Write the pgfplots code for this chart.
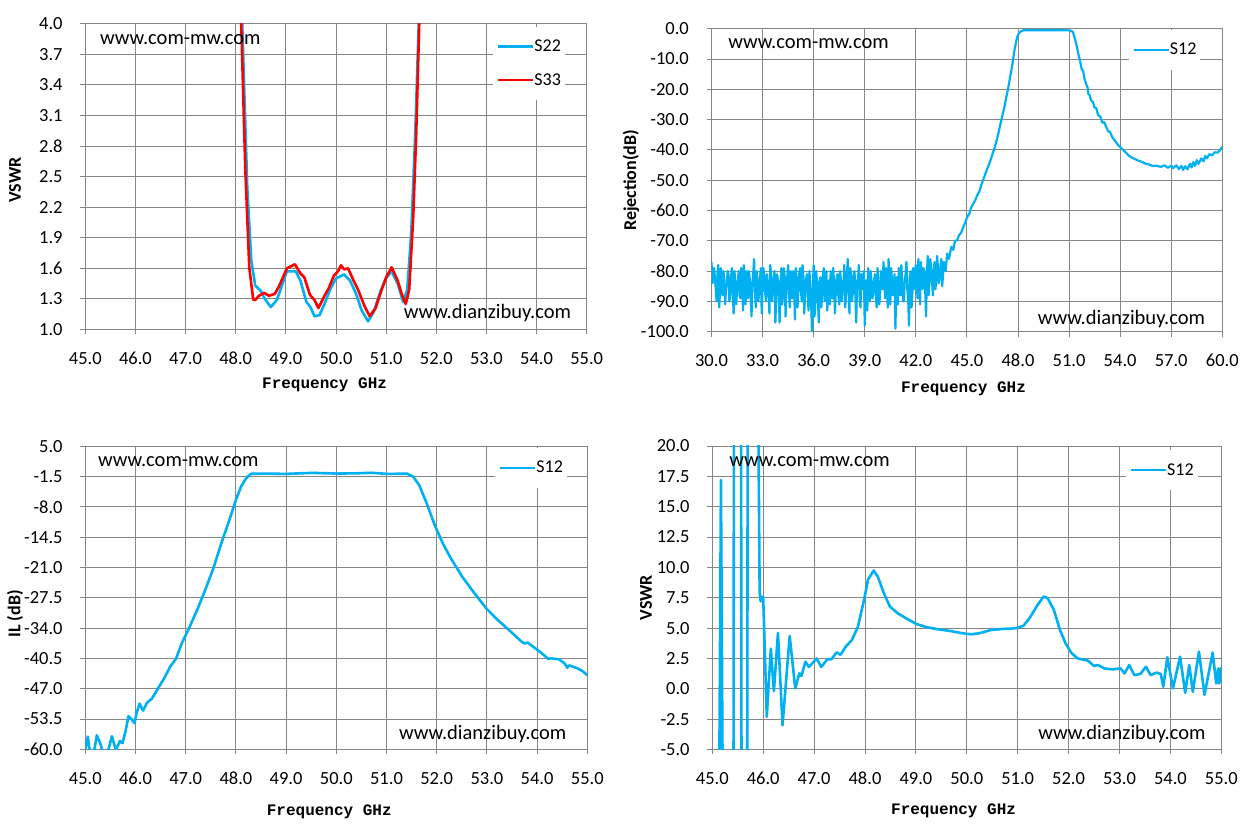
\documentclass[border=0pt]{standalone}
\usepackage{fontspec}
\setmainfont{Carlito}
\newfontfamily\freqfont{Liberation Mono}
\usepackage{pgfplots}
\pgfplotsset{compat=1.18}
\definecolor{cb}{RGB}{0,176,240}
\definecolor{cr}{RGB}{255,0,0}
\definecolor{gc}{RGB}{134,134,134}
\newcommand{\wm}{\fontsize{20.5}{24}\selectfont}
\pgfplotsset{
 chart/.style={
  scale only axis, anchor=south west, enlargelimits=false,
  axis line style={gc,line width=0.9pt},
  grid=major, major grid style={gc,line width=0.9pt},
  tick style={gc,line width=0.9pt}, tick align=outside, major tick length=5pt,
  xtick pos=bottom, ytick pos=left,
  scaled ticks=false,
  /pgf/number format/fixed, /pgf/number format/fixed zerofill,
  /pgf/number format/precision=1, /pgf/number format/assume math mode=true,
  tick label style={font=\fontsize{18.5}{20}\selectfont},
  xticklabel style={anchor=center, yshift=-24pt},
  yticklabel style={anchor=east, inner sep=0pt, xshift=-17.5pt},
  xlabel style={font=\freqfont\bfseries\fontsize{16}{18}\selectfont, at={(axis description cs:0.5,0)}, anchor=center},
  ylabel style={font=\bfseries\fontsize{18}{20}\selectfont, at={(axis description cs:0,0.5)}, anchor=center},
  legend style={draw=none, fill=white, font=\fontsize{18}{20}\selectfont, anchor=north west,
    inner xsep=4pt, inner ysep=13.5pt, row sep=20pt,
    nodes={inner sep=0pt}, /tikz/every even column/.style={column sep=4pt}},
  legend cell align=left,
  legend image code/.code={\draw[##1] (0pt,0pt) -- (35pt,0pt);},
  every axis plot/.append style={line width=2.6pt, line join=round},
 }
}
\pgfplotstableread{
x y
30.0 -77
30.05 -84
30.1 -83
30.15 -79
30.2 -82
30.25 -86
30.3 -90
30.35 -81
30.4 -78
30.45 -92
30.5 -87
30.55 -79
30.6 -85
30.65 -88
30.7 -80
30.75 -83
30.8 -91
30.85 -86
30.9 -84
30.95 -80
31.0 -81
31.05 -90
31.1 -88
31.15 -82
31.2 -79
31.25 -87
31.3 -94
31.35 -80
31.4 -84
31.45 -91
31.5 -86
31.55 -83
31.6 -80
31.65 -88
31.7 -89
31.75 -79
31.8 -83
31.85 -93
31.9 -78
31.95 -85
32.0 -91
32.05 -80
32.1 -85
32.15 -89
32.2 -80
32.25 -83
32.3 -88
32.35 -95
32.4 -84
32.45 -81
32.5 -76
32.55 -86
32.6 -92
32.65 -80
32.7 -83
32.75 -90
32.8 -87
32.85 -82
32.9 -79
32.95 -94
33.0 -85
33.05 -79
33.1 -82
33.15 -87
33.2 -90
33.25 -81
33.3 -84
33.35 -86
33.4 -94
33.45 -78
33.5 -81
33.55 -90
33.6 -86
33.65 -83
33.7 -80
33.75 -97
33.8 -89
33.85 -81
33.9 -83
33.95 -87
34.0 -97
34.05 -84
34.1 -79
34.15 -91
34.2 -88
34.25 -79
34.3 -82
34.35 -95
34.4 -86
34.45 -82
34.5 -78
34.55 -87
34.6 -92
34.65 -80
34.7 -84
34.75 -89
34.8 -80
34.85 -84
34.9 -96
34.95 -79
35.0 -83
35.05 -92
35.1 -87
35.15 -81
35.2 -79
35.25 -86
35.3 -90
35.35 -78
35.4 -82
35.45 -94
35.5 -86
35.55 -83
35.6 -81
35.65 -88
35.7 -93
35.75 -80
35.8 -85
35.85 -90
35.9 -100
35.95 -86
36.0 -78
36.05 -95
36.1 -91
36.15 -80
36.2 -84
36.25 -89
36.3 -97
36.35 -83
36.4 -82
36.45 -92
36.5 -88
36.55 -81
36.6 -79
36.65 -90
36.7 -86
36.75 -80
36.8 -93
36.85 -87
36.9 -83
36.95 -91
37.0 -80
37.05 -84
37.1 -89
37.15 -79
37.2 -84
37.25 -94
37.3 -87
37.35 -82
37.4 -81
37.45 -88
37.5 -91
37.55 -80
37.6 -83
37.65 -90
37.7 -86
37.75 -84
37.8 -78
37.85 -92
37.9 -88
37.95 -82
38.0 -76
38.05 -85
38.1 -94
38.15 -79
38.2 -82
38.25 -90
38.3 -87
38.35 -81
38.4 -80
38.45 -88
38.5 -97
38.55 -83
38.6 -84
38.65 -78
38.7 -89
38.75 -92
38.8 -81
38.85 -84
38.9 -86
38.95 -80
39.0 -98
39.05 -87
39.1 -83
39.15 -93
39.2 -79
39.25 -84
39.3 -90
39.35 -80
39.4 -84
39.45 -89
39.5 -87
39.55 -83
39.6 -81
39.65 -88
39.7 -92
39.75 -79
39.8 -85
39.85 -91
39.9 -88
39.95 -80
40.0 -82
40.05 -86
40.1 -77
40.15 -83
40.2 -89
40.25 -79
40.3 -84
40.35 -92
40.4 -76
40.45 -83
40.5 -91
40.55 -79
40.6 -83
40.65 -88
40.7 -86
40.75 -81
40.8 -99
40.85 -86
40.9 -82
40.95 -91
41.0 -79
41.05 -84
41.1 -88
41.15 -78
41.2 -84
41.25 -90
41.3 -90
41.35 -83
41.4 -81
41.45 -77
41.5 -86
41.55 -89
41.6 -98
41.65 -82
41.7 -80
41.75 -92
41.8 -87
41.85 -79
41.9 -83
41.95 -86
42.0 -78
42.05 -82
42.1 -89
42.15 -76
42.2 -82
42.25 -91
42.3 -77
42.35 -83
42.4 -86
42.45 -79
42.5 -80
42.55 -86
42.6 -95
42.65 -81
42.7 -75
42.75 -88
42.8 -84
42.85 -76
42.9 -79
42.95 -83
43.0 -88
43.05 -80
43.1 -77
43.15 -86
43.2 -83
43.25 -75
43.3 -79
43.35 -84
43.4 -82
43.45 -78
43.5 -76
43.55 -85
43.6 -81
43.65 -77
43.7 -78
43.75 -80
43.84 -74.2
43.95 -76
44.08 -72
44.2 -73
44.3 -70
44.43 -69.8
44.55 -68
44.65 -67.5
44.79 -65.4
44.9 -64
45.02 -62.1
45.15 -61
45.25 -59
45.38 -57.7
45.5 -56.5
45.6 -55
45.73 -53.8
45.85 -51.5
45.95 -50
46.09 -47.8
46.2 -46.2
46.32 -44.5
46.45 -42.3
46.6 -39.8
46.7 -37.8
46.80 -35.7
46.95 -32
47.05 -29.5
47.16 -26.9
47.3 -23
47.44 -19.2
47.56 -15.3
47.68 -11.5
47.78 -7.5
47.87 -4.9
47.95 -2.8
48.06 -1.4
48.2 -0.8
48.34 -0.5
48.8 -0.5
49.5 -0.5
50.2 -0.5
50.8 -0.5
51.07 -0.6
51.23 -1.1
51.42 -4.9
51.55 -8.5
51.66 -11
51.75 -13.5
51.82 -13.8
51.9 -16.4
52.0 -18.2
52.1 -19.6
52.13 -21.5
52.2 -21.8
52.3 -23.8
52.4 -24.1
52.49 -26
52.6 -26.2
52.7 -28.4
52.84 -29.1
52.95 -31
53.05 -30.8
53.2 -32.6
53.3 -33.9
53.4 -34
53.55 -35.9
53.7 -37
53.85 -38.2
54.03 -39.2
54.2 -40.2
54.35 -40.9
54.5 -41.9
54.7 -42.6
54.9 -43.1
55.09 -43.6
55.3 -44
55.5 -44.6
55.69 -44.8
55.9 -45.3
56.1 -45.2
56.4 -45.6
56.6 -45.1
56.8 -45.9
57.0 -45.2
57.11 -46
57.3 -45.1
57.45 -46.3
57.6 -45.3
57.7 -46.6
57.82 -45.4
57.95 -46.4
58.1 -44.6
58.2 -45.8
58.3 -44.0
58.4 -45.3
58.5 -43.4
58.6 -44.6
58.77 -42.8
58.9 -43.8
59.0 -42.0
59.1 -42.8
59.24 -41.4
59.4 -41.8
59.55 -40.8
59.72 -40.9
59.85 -40.2
60.0 -39
}\rejtable
\begin{document}
\begin{tikzpicture}
\useasboundingbox[fill=white] (0pt,0pt) rectangle (1253pt,835pt);
% ---------- top left: VSWR S22/S33
\begin{axis}[chart, at={(85.3pt,505.5pt)}, width=501.4pt, height=305.8pt,
  xmin=45, xmax=55, ymin=1, ymax=4,
  xtick={45,46,...,55}, ytick={1,1.3,1.6,1.9,2.2,2.5,2.8,3.1,3.4,3.7,4},
  xlabel={Frequency GHz}, ylabel={VSWR},
  xlabel style={yshift=-55.5pt, xshift=-11.4pt},
  ylabel style={yshift=70.3pt, xshift=-3.4pt},
  legend style={at={(axis description cs:0.8123,0.9908)}}]
\addplot[cb] coordinates {(48.08,5.0) (48.13,4.0) (48.23,2.40) (48.31,1.68) (48.39,1.43) (48.50,1.38) (48.58,1.30) (48.70,1.22) (48.82,1.29) (48.90,1.40) (49.02,1.57) (49.10,1.57) (49.20,1.57) (49.29,1.48) (49.41,1.27) (49.49,1.22) (49.57,1.13) (49.67,1.14) (49.77,1.25) (49.89,1.40) (50.00,1.50) (50.16,1.54) (50.28,1.48) (50.40,1.35) (50.51,1.19) (50.64,1.08) (50.75,1.17) (50.87,1.35) (50.99,1.50) (51.11,1.57) (51.23,1.45) (51.34,1.27) (51.42,1.39) (51.50,1.94) (51.58,2.92) (51.65,4.0) (51.69,5.0)};
\addlegendentry{S22}
\addplot[cr] coordinates {(48.05,5.0) (48.11,4.0) (48.19,2.59) (48.27,1.61) (48.35,1.29) (48.39,1.29) (48.46,1.33) (48.57,1.36) (48.66,1.33) (48.78,1.35) (48.86,1.42) (49.02,1.60) (49.10,1.62) (49.18,1.64) (49.29,1.55) (49.37,1.51) (49.48,1.34) (49.57,1.29) (49.65,1.21) (49.77,1.33) (49.85,1.40) (49.96,1.53) (50.04,1.57) (50.10,1.63) (50.16,1.59) (50.24,1.60) (50.36,1.47) (50.44,1.39) (50.56,1.24) (50.67,1.13) (50.79,1.21) (50.91,1.39) (51.01,1.52) (51.11,1.61) (51.23,1.48) (51.31,1.35) (51.39,1.25) (51.46,1.39) (51.54,2.10) (51.60,2.92) (51.66,4.0) (51.70,5.0)};
\addlegendentry{S33}
\end{axis}
% ---------- top right: rejection
\begin{axis}[chart, at={(711.5pt,503.3pt)}, width=510.8pt, height=303pt,
  xmin=30, xmax=60, ymin=-100, ymax=0,
  xtick={30,33,...,60}, ytick={-100,-90,...,0},
  xlabel={Frequency GHz}, ylabel={Rejection(dB)},
  xlabel style={yshift=-57.3pt, xshift=-3.4pt},
  ylabel style={yshift=80.5pt},
  legend style={at={(axis description cs:0.8164,0.9974)}}]
\addplot[cb, line width=2.2pt] table[x=x,y=y] {\rejtable};
\addlegendentry{S12}
\end{axis}
% ---------- bottom left: IL
\begin{axis}[chart, at={(85.3pt,85.7pt)}, width=502pt, height=303pt,
  xmin=45, xmax=55, ymin=-60, ymax=5,
  xtick={45,46,...,55}, ytick={-60,-53.5,-47,-40.5,-34,-27.5,-21,-14.5,-8,-1.5,5},
  xlabel={Frequency GHz}, ylabel={IL (dB)},
  xlabel style={yshift=-62.2pt, xshift=-7pt},
  ylabel style={yshift=70.3pt, xshift=-16pt},
  legend style={at={(axis description cs:0.8155,0.996)}}]
\addplot[cb] coordinates {(45.00,-60.0) (45.05,-57.3) (45.09,-60.5) (45.15,-62) (45.23,-57.0) (45.31,-59.1) (45.37,-62) (45.45,-60.5) (45.53,-57.2) (45.61,-60.2) (45.69,-58.2) (45.74,-58.7) (45.80,-56.2) (45.86,-52.9) (45.91,-53.4) (45.98,-54.4) (46.02,-52.3) (46.08,-50.2) (46.15,-51.7) (46.23,-50.0) (46.33,-49.1) (46.45,-46.9) (46.57,-44.8) (46.69,-42.3) (46.81,-40.5) (46.92,-37.3) (47.08,-33.7) (47.24,-29.8) (47.39,-25.8) (47.55,-21.2) (47.71,-15.8) (47.87,-10.8) (48.00,-6.5) (48.10,-3.7) (48.20,-1.9) (48.30,-0.9) (48.6,-0.85) (49.0,-0.92) (49.52,-0.7) (50.0,-0.85) (50.4,-0.8) (50.7,-0.68) (51.02,-0.92) (51.41,-0.87) (51.53,-1.5) (51.65,-3.3) (51.80,-7.2) (51.96,-11.9) (52.12,-15.8) (52.28,-19.0) (52.51,-23.0) (52.75,-26.5) (52.99,-29.8) (53.22,-32.3) (53.46,-34.6) (53.69,-36.9) (53.75,-37.3) (53.81,-37.1) (54.01,-38.7) (54.17,-40.1) (54.22,-40.6) (54.28,-40.5) (54.44,-40.7) (54.55,-41.6) (54.6,-42.5) (54.64,-42.0) (54.80,-42.6) (54.9,-43.2) (55.0,-44.1)};
\addlegendentry{S12}
\end{axis}
% ---------- bottom right: VSWR S12
\begin{axis}[chart, at={(712.3pt,85.5pt)}, width=509pt, height=303.5pt,
  xmin=45, xmax=55, ymin=-5, ymax=20,
  xtick={45,46,...,55}, ytick={-5,-2.5,0,2.5,5,7.5,10,12.5,15,17.5,20},
  xlabel={Frequency GHz}, ylabel={VSWR},
  xlabel style={yshift=-61.5pt, xshift=-13.2pt},
  ylabel style={yshift=66.3pt},
  legend style={at={(axis description cs:0.8114,0.9875)}}]
\addplot[cb] coordinates {(45.12,-20) (45.17,17.2) (45.22,-20) (45.41,-30) (45.43,40) (45.5,60) (45.56,40) (45.58,-30) (45.63,-50) (45.68,-30) (45.70,40) (45.80,60) (45.89,30) (45.93,8.0) (45.95,7.2) (45.97,7.6) (46.0,7.5) (46.07,-2.3) (46.15,3.3) (46.21,-0.2) (46.29,4.6) (46.38,-3.0) (46.52,4.35) (46.63,0.03) (46.71,1.27) (46.75,1.05) (46.83,2.23) (46.9,1.8) (47.05,2.5) (47.14,1.8) (47.26,2.43) (47.34,2.43) (47.44,3.0) (47.52,2.8) (47.62,3.47) (47.74,4.0) (47.86,5.1) (47.98,7.3) (48.06,9.0) (48.17,9.74) (48.25,9.25) (48.37,7.87) (48.49,6.77) (48.65,6.2) (48.81,5.8) (49.01,5.34) (49.21,5.07) (49.44,4.9) (49.68,4.76) (49.92,4.57) (50.08,4.49) (50.24,4.57) (50.48,4.85) (50.71,4.93) (50.95,4.98) (51.11,5.18) (51.23,5.8) (51.39,6.9) (51.51,7.6) (51.59,7.46) (51.71,6.5) (51.83,4.85) (51.94,3.75) (52.06,2.92) (52.18,2.5) (52.38,2.32) (52.5,1.88) (52.58,1.96) (52.7,1.68) (52.86,1.6) (53.02,1.68) (53.1,1.27) (53.19,1.96) (53.29,1.13) (53.41,1.22) (53.52,1.82) (53.61,1.13) (53.73,1.33) (53.81,1.22) (53.86,0.17) (53.94,2.6) (54.05,0.03) (54.19,2.65) (54.29,-0.33) (54.37,1.96) (54.44,-0.25) (54.56,3.06) (54.67,-0.5) (54.83,2.98) (54.90,0.44) (54.94,1.68) (54.96,0.44) (55.0,1.77)};
\addlegendentry{S12}
\end{axis}
% ---------- watermarks
\node[anchor=base west, inner sep=0pt, font=\wm] at (100pt,790pt) {www.com-mw.com};
\node[anchor=base west, inner sep=0pt, font=\wm] at (403.6pt,516pt) {www.dianzibuy.com};
\node[anchor=base west, inner sep=0pt, font=\wm] at (728.2pt,786.7pt) {www.com-mw.com};
\node[anchor=base west, inner sep=0pt, font=\wm] at (1037.7pt,510pt) {www.dianzibuy.com};
\node[anchor=base west, inner sep=0pt, font=\wm] at (98pt,368.3pt) {www.com-mw.com};
\node[anchor=base west, inner sep=0pt, font=\wm] at (399pt,95pt) {www.dianzibuy.com};
\node[anchor=base west, inner sep=0pt, font=\wm] at (729.1pt,368.3pt) {www.com-mw.com};
\node[anchor=base west, inner sep=0pt, font=\wm] at (1038.2pt,95pt) {www.dianzibuy.com};
\end{tikzpicture}
\end{document}
